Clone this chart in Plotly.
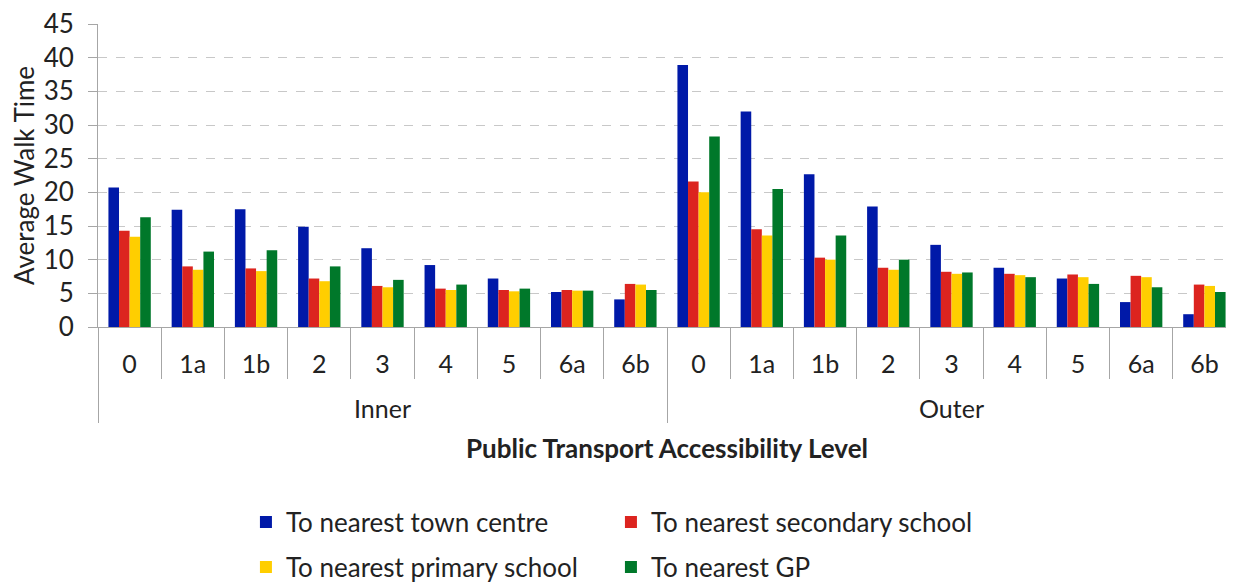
import plotly.graph_objects as go

zones = ["Inner"] * 9 + ["Outer"] * 9
ptal = ["0", "1a", "1b", "2", "3", "4", "5", "6a", "6b"] * 2

town_centre = [20.7, 17.4, 17.5, 14.9, 11.7, 9.2, 7.2, 5.2, 4.1,
               38.9, 32.0, 22.7, 17.9, 12.2, 8.8, 7.2, 3.7, 1.9]
secondary = [14.3, 9.0, 8.7, 7.2, 6.1, 5.7, 5.5, 5.5, 6.4,
             21.6, 14.5, 10.3, 8.8, 8.2, 7.9, 7.8, 7.6, 6.3]
primary = [13.4, 8.5, 8.3, 6.8, 5.9, 5.5, 5.3, 5.4, 6.3,
           20.0, 13.6, 10.0, 8.5, 7.9, 7.7, 7.4, 7.4, 6.1]
gp = [16.3, 11.2, 11.4, 9.0, 7.0, 6.3, 5.7, 5.4, 5.5,
      28.3, 20.5, 13.6, 10.0, 8.1, 7.4, 6.4, 5.9, 5.2]

series = [
    ("To nearest town centre", town_centre, "#0019A8", "legend"),
    ("To nearest secondary school", secondary, "#DC241F", "legend"),
    ("To nearest primary school", primary, "#FFCE00", "legend2"),
    ("To nearest GP", gp, "#00782A", "legend2"),
]

font_family = "Lato, 'Open Sans', sans-serif"
# labels are shown at 25px; the axis base font is smaller so the leading
# line break of the group level gives a tighter gap between the two levels
group_labels = ["<br><span style='font-size:25px'>%s</span>" % z for z in zones]
cat_labels = ["<span style='font-size:25px'>%s</span>" % p for p in ptal]

fig = go.Figure()
for name, vals, color, leg in series:
    fig.add_trace(go.Bar(
        x=[group_labels, cat_labels], y=vals, name=name, legend=leg,
        marker=dict(color=color, line=dict(width=0)),
    ))

fig.update_layout(
    width=1228, height=583,
    margin=dict(l=90, r=0, t=16, b=264, autoexpand=False),
    paper_bgcolor="white", plot_bgcolor="white",
    font=dict(family=font_family, size=24, color="#222222"),
    barmode="group", bargap=0.33, bargroupgap=0,
    showlegend=True,
    legend=dict(orientation="h", x=0.13, xanchor="left", y=-0.6436, yanchor="middle",
                entrywidth=320, font=dict(size=26), itemwidth=30,
                bgcolor="rgba(0,0,0,0)"),
    legend2=dict(orientation="h", x=0.13, xanchor="left", y=-0.792, yanchor="middle",
                 entrywidth=320, font=dict(size=26), itemwidth=30,
                 bgcolor="rgba(0,0,0,0)"),
)

fig.update_xaxes(
    type="multicategory", automargin=False,
    showline=True, linecolor="#A6A6A6", linewidth=1,
    ticks="outside", tickson="boundaries", ticklen=51, tickcolor="#A6A6A6",
    showdividers=True, dividercolor="#A6A6A6", dividerwidth=1,
    tickfont=dict(size=23), ticklabelstandoff=17,
    title=dict(text="<b>Public Transport Accessibility Level</b>", font=dict(size=26), standoff=18),
    showgrid=False,
)
fig.update_yaxes(
    range=[0, 45], dtick=5, automargin=False,
    showline=True, linecolor="#A6A6A6", linewidth=1,
    ticks="outside", ticklen=9, tickcolor="#A6A6A6",
    showgrid=True, gridcolor="#C8C8C8", griddash="dash", gridwidth=1,
    zeroline=False, ticklabeloverflow="allow",
    tickfont=dict(size=26), ticklabelstandoff=9,
    title=dict(text="Average Walk Time", font=dict(size=26), standoff=3),
)

fig.write_html("out.html")
